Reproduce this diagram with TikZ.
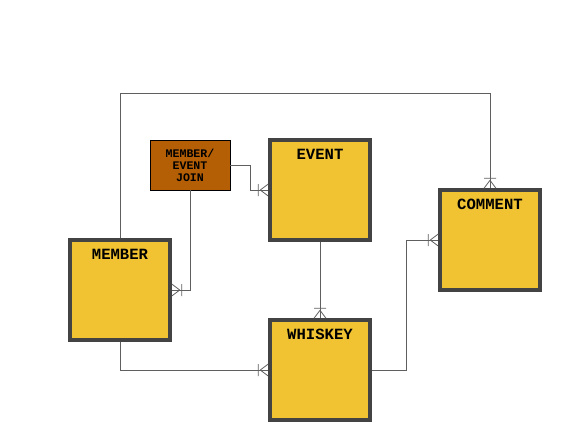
\documentclass[tikz,border=0pt]{standalone}
\usepackage{fontspec}
\setmonofont{Liberation Mono}
\usepackage{tikz}
\usetikzlibrary{decorations.markings}
\usetikzlibrary{positioning}
\definecolor{entityfill}{HTML}{F1C232}
\definecolor{entityborder}{HTML}{434343}
\definecolor{joinfill}{HTML}{B45F06}
\definecolor{linkgray}{HTML}{5F5F5F}
\tikzstyle{entity} = [rectangle, draw=entityborder, fill=entityfill, line width=3.5pt,
    minimum width=100pt, minimum height=100pt]
\tikzstyle{join_table} = [rectangle, draw=black, fill=joinfill, line width=0.8pt,
    minimum width=80pt, minimum height=50pt, inner sep=0pt, align=center,
    font=\ttfamily\bfseries\fontsize{11.6}{12}\selectfont]
\tikzstyle{title} = [anchor=base, label distance=-21pt, font=\ttfamily\bfseries\fontsize{15.6}{18}\selectfont]
\tikzstyle{link} = [draw=linkgray, line width=1pt]
\tikzstyle{crow} = [link, postaction={decorate}, decoration={markings,
    mark=at position 1 with {\draw[linkgray, line width=0.8pt]
      (-10pt,-6pt) -- (-10pt,6pt)
      (-8pt,0pt) -- (0pt,6pt)
      (-8pt,0pt) -- (0pt,-6pt);}}]

\begin{document}
\begin{tikzpicture}[x=1pt, y=-1pt]
    \useasboundingbox (0,0) rectangle (566,440);
    % Place nodes
    \node [entity, label={[title]north:MEMBER}] (member) at (120,290) {};
    \node [entity, label={[title]north:EVENT}] (event) at (320,190) {};
    \node [entity, label={[title]north:WHISKEY}] (whiskey) at (320,370) {};
    \node [entity, label={[title]north:COMMENT}] (comment) at (490,240) {};
    \node [join_table] (memberevent) at (190,165) {MEMBER/\\EVENT\\JOIN};

    % Draw edges
    \path [crow] (member.north) -- ++(0,-145.25) -| (comment.north);
    \path [crow] (memberevent.east) -- ++(20,0) |- (event.west);
    \path [crow] (memberevent.south) |- (member.east);
    \path [crow] (event.south) -- (whiskey.north);
    \path [crow] (member.south) |- (whiskey.west);
    \path [crow] (whiskey.east) -- ++(35,0) |- (comment.west);
\end{tikzpicture}
\end{document}
